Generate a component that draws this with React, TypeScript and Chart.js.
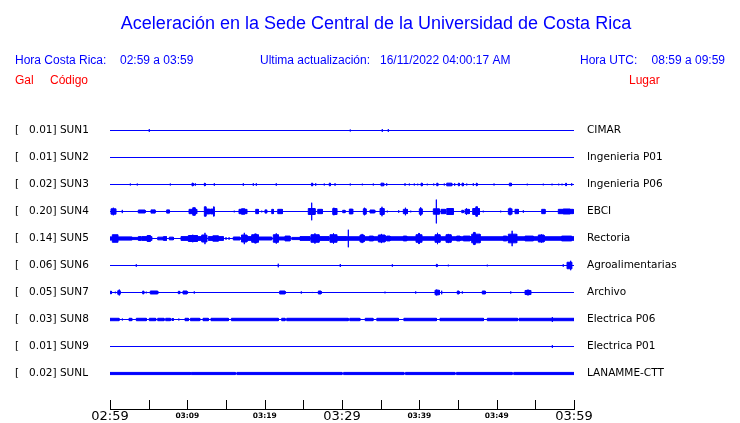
import React, { useEffect, useRef } from 'react';
import { Chart, registerables } from 'chart.js';
Chart.register(...registerables);

type Ev = [number, number, number]; // [start minute, end minute, relative amplitude]

const TITLE = 'Aceleración en la Sede Central de la Universidad de Costa Rica';
const HORA_CR = '02:59 a 03:59';
const UPDATED = '16/11/2022 04:00:17 AM';
const HORA_UTC = '08:59 a 09:59';

const GAL = ['0.01', '0.01', '0.02', '0.20', '0.14', '0.06', '0.05', '0.03', '0.01', '0.02'];
const CODES = ['SUN1', 'SUN2', 'SUN3', 'SUN4', 'SUN5', 'SUN6', 'SUN7', 'SUN8', 'SUN9', 'SUNL'];
const PLACES = ['CIMAR', 'Ingenieria P01', 'Ingenieria P06', 'EBCI', 'Rectoria', 'Agroalimentarias', 'Archivo', 'Electrica P06', 'Electrica P01', 'LANAMME-CTT'];
const TICK_LABELS = ['02:59', '03:09', '03:19', '03:29', '03:39', '03:49', '03:59'];
const MAJOR_LABELS = ['02:59', '03:29', '03:59'];
const DURATION_MIN = 60;

const SUN1: Ev[] = [[5.08, 5.08, 0.1], [31.07, 31.07, 0.07], [35.21, 35.21, 0.1], [35.99, 35.99, 0.1]];
const SUN2: Ev[] = [];
const SUN3: Ev[] = [
  [2.63, 2.63, 0.07], [3.53, 3.53, 0.07], [7.8, 7.8, 0.07], [10.6, 10.75, 0.1], [11.03, 11.03, 0.09],
  [12.2, 12.3, 0.1], [13.49, 13.49, 0.09], [17.24, 17.24, 0.09], [18.53, 18.53, 0.09], [18.92, 18.92, 0.09],
  [21.5, 21.5, 0.09], [26.05, 26.2, 0.1], [26.6, 26.6, 0.09], [27.71, 27.71, 0.07], [28.35, 28.5, 0.1],
  [29.1, 29.1, 0.09], [31.07, 31.07, 0.07], [32.63, 32.63, 0.06], [34.05, 34.05, 0.07], [35.04, 35.39, 0.1],
  [35.78, 35.78, 0.09], [38.15, 38.15, 0.09], [38.71, 38.71, 0.07], [39.35, 39.35, 0.07], [39.79, 39.79, 0.06],
  [40.22, 40.38, 0.1], [41.03, 41.03, 0.06], [41.86, 41.86, 0.07], [42.25, 42.38, 0.1], [43.23, 43.23, 0.07],
  [43.54, 44.19, 0.1], [44.57, 44.57, 0.09], [45.04, 45.17, 0.1], [45.52, 45.69, 0.1], [46.13, 46.13, 0.07],
  [46.98, 46.98, 0.09], [47.37, 47.46, 0.1], [49.66, 49.66, 0.07], [51.64, 51.9, 0.1], [53.96, 53.96, 0.06],
  [56.03, 56.03, 0.06], [57.16, 57.16, 0.06], [58.02, 58.02, 0.06], [58.45, 58.45, 0.06], [58.93, 59.0, 0.1],
  [59.7, 59.7, 0.09],
];
const SUN4: Ev[] = [
  [0.13, 0.74, 0.2], [0.43, 0.43, 0.28], [1.59, 1.59, 0.12], [3.66, 4.53, 0.11], [5.3, 5.82, 0.12],
  [7.33, 7.67, 0.12], [10.22, 11.21, 0.16], [10.7, 11.0, 0.28], [12.2, 12.4, 0.35], [12.4, 12.9, 0.18],
  [13.0, 13.45, 0.18], [13.4, 13.45, 0.35], [16.07, 16.07, 0.06], [16.68, 17.68, 0.16], [17.0, 17.4, 0.2],
  [18.84, 19.18, 0.16], [19.62, 19.62, 0.06], [20.04, 20.26, 0.12], [20.91, 21.12, 0.16], [21.69, 22.28, 0.16],
  [25.64, 26.51, 0.22], [26.08, 26.08, 0.65], [26.86, 27.45, 0.16], [28.8, 29.32, 0.22], [28.95, 28.95, 0.28],
  [30.09, 30.39, 0.09], [30.95, 31.38, 0.18], [32.76, 33.1, 0.2], [32.9, 32.9, 0.28], [33.62, 34.23, 0.11],
  [34.92, 35.43, 0.22], [35.17, 35.17, 0.35], [35.86, 35.86, 0.06], [37.33, 37.33, 0.09], [37.93, 38.45, 0.16],
  [38.2, 38.2, 0.28], [38.89, 38.89, 0.06], [40.0, 40.35, 0.2], [40.17, 40.17, 0.31], [41.81, 42.58, 0.2],
  [42.2, 42.2, 0.88], [42.8, 43.36, 0.16], [43.54, 44.39, 0.22], [45.48, 45.69, 0.09], [45.91, 46.46, 0.16],
  [46.1, 46.1, 0.24], [46.9, 47.76, 0.22], [47.3, 47.5, 0.35], [48.27, 48.27, 0.06], [50.52, 50.52, 0.06],
  [51.51, 51.95, 0.2], [51.73, 51.73, 0.28], [52.37, 52.8, 0.16], [53.45, 53.45, 0.09], [55.82, 56.25, 0.16],
  [57.97, 59.91, 0.16], [58.6, 59.5, 0.18],
];
const SUN5: Ev[] = [
  [0, 2.81, 0.12], [0.3, 1.0, 0.28], [2.81, 3.88, 0.08], [3.66, 4.0, 0.14], [4.1, 5.39, 0.14], [4.8, 5.2, 0.22],
  [6.17, 6.89, 0.1], [6.9, 7.3, 0.14], [7.67, 8.19, 0.1], [9.18, 11.86, 0.14], [10.13, 11.3, 0.22],
  [10.7, 10.7, 0.28], [11.86, 12.5, 0.26], [12.28, 12.28, 0.42], [12.71, 14.65, 0.14], [13.3, 14.0, 0.2],
  [15.0, 15.0, 0.09], [15.4, 15.4, 0.09], [15.94, 16.81, 0.11], [17.0, 17.7, 0.26], [17.37, 17.37, 0.42],
  [17.7, 18.32, 0.14], [18.32, 19.18, 0.28], [18.7, 18.9, 0.34], [19.18, 20.91, 0.11], [21.12, 21.76, 0.28],
  [21.5, 21.5, 0.38], [21.76, 22.63, 0.11], [22.63, 23.28, 0.18], [23.5, 24.57, 0.08], [24.57, 25.86, 0.14],
  [25.99, 27.03, 0.28], [26.5, 26.5, 0.38], [27.03, 28.32, 0.14], [28.45, 29.32, 0.28], [28.9, 28.9, 0.38],
  [29.32, 30.5, 0.14], [30.5, 60, 0.13], [30.82, 30.82, 0.65], [32.33, 32.85, 0.26], [32.6, 32.6, 0.34],
  [33.53, 34.05, 0.18], [34.7, 35.56, 0.26], [35.1, 35.1, 0.34], [35.78, 36.21, 0.18], [37.93, 38.37, 0.18],
  [39.57, 40.31, 0.28], [39.9, 40.0, 0.38], [42.03, 42.67, 0.28], [42.35, 42.35, 0.42], [43.45, 44.1, 0.28],
  [43.75, 43.75, 0.34], [44.83, 45.26, 0.18], [45.69, 46.55, 0.18], [46.77, 47.85, 0.32], [47.0, 47.2, 0.45],
  [50.86, 51.3, 0.18], [51.51, 52.59, 0.32], [52.0, 52.0, 0.57], [53.67, 54.74, 0.18], [55.39, 56.12, 0.26],
  [55.8, 55.8, 0.3], [58.41, 59.7, 0.18],
];
const SUN6: Ev[] = [
  [3.4, 3.4, 0.09], [21.76, 21.76, 0.13], [29.78, 29.78, 0.11], [36.51, 36.51, 0.09], [42.2, 42.3, 0.09],
  [43.75, 43.75, 0.06], [48.79, 48.79, 0.06], [58.61, 58.61, 0.09], [59.1, 59.7, 0.24], [59.57, 59.57, 0.35],
];
const SUN7: Ev[] = [
  [0, 0.2, 0.09], [0.69, 0.69, 0.06], [1.0, 1.3, 0.13], [1.2, 1.2, 0.22], [4.23, 4.36, 0.11], [4.69, 4.69, 0.06],
  [5.21, 6.17, 0.11], [8.83, 9.01, 0.09], [9.44, 9.96, 0.11], [10.13, 10.13, 0.04], [10.9, 10.9, 0.08],
  [21.94, 22.63, 0.11], [24.74, 24.74, 0.08], [26.16, 26.16, 0.04], [26.94, 27.29, 0.11], [35.56, 35.56, 0.06],
  [39.53, 39.53, 0.08], [42.03, 42.58, 0.17], [42.25, 42.25, 0.22], [42.89, 42.89, 0.13], [44.91, 45.13, 0.11],
  [45.56, 45.56, 0.08], [48.14, 48.53, 0.11], [51.82, 51.82, 0.08], [53.67, 54.4, 0.15], [53.9, 54.2, 0.18],
];
const SUN8: Ev[] = [
  [0, 1.16, 0.09], [1.6, 1.6, 0.07], [2.46, 2.81, 0.09], [3.4, 4.69, 0.09], [5.08, 5.9, 0.09], [6.17, 6.98, 0.09],
  [7.2, 7.8, 0.09], [8.0, 8.2, 0.07], [8.9, 8.9, 0.07], [9.7, 10.13, 0.09], [10.4, 11.6, 0.09], [12.03, 12.71, 0.09],
  [13.06, 15.3, 0.09], [15.7, 21.76, 0.09], [22.2, 22.63, 0.09], [22.85, 30.8, 0.09], [31.0, 32.3, 0.09],
  [33.0, 34.0, 0.09], [34.5, 37.3, 0.09], [38.0, 42.2, 0.09], [42.67, 48.3, 0.09], [48.79, 52.7, 0.09],
  [52.9, 60, 0.09], [57.2, 57.2, 0.18],
];
const SUN9: Ev[] = [[57.2, 57.2, 0.1]];
const SUNL: Ev[] = [
  [0, 10.4, 0.08], [10.5, 16.2, 0.08], [16.4, 30.0, 0.08], [30.2, 38.0, 0.08], [38.2, 44.6, 0.08],
  [44.8, 52.0, 0.08], [52.2, 60, 0.08],
];
const TRACES: Ev[][] = [SUN1, SUN2, SUN3, SUN4, SUN5, SUN6, SUN7, SUN8, SUN9, SUNL];

// layout (pixels)
const W = 740;
const H = 423;
const ROW_PX = 27;
const PLOT_TOP = 116;
const PLOT_BOTTOM = 409;
const FIRST_ROW_Y = 130.5;
const LAST_ROW_Y = FIRST_ROW_Y + ROW_PX * 9;
const Y_MIN = 1 - (PLOT_BOTTOM - LAST_ROW_Y) / ROW_PX;
const Y_MAX = Y_MIN + (PLOT_BOTTOM - PLOT_TOP) / ROW_PX;
const HALF_ROW = 0.5;

function buildTrace(base: number, events: Ev[]) {
  const pts: { x: number; y: number }[] = [{ x: 0, y: base }];
  const sorted = [...events].sort((a, b) => a[0] - b[0]);
  for (const [t0, t1, a] of sorted) {
    const h = a * HALF_ROW;
    pts.push(
      { x: t0, y: base },
      { x: t0, y: base + h },
      { x: t1, y: base + h },
      { x: t1, y: base - h },
      { x: t0, y: base - h },
      { x: t0, y: base },
    );
  }
  pts.push({ x: DURATION_MIN, y: base });
  return pts;
}

const SANS = '"Liberation Sans", Arial, Helvetica, sans-serif';
const DEJAVU = '"DejaVu Sans", sans-serif';

const overlayPlugin = {
  id: 'overlay',
  afterDraw(chart: any) {
    const ctx = chart.ctx as CanvasRenderingContext2D;
    ctx.save();
    ctx.textBaseline = 'alphabetic';
    ctx.fillStyle = '#0000ff';
    ctx.font = `18px ${SANS}`;
    ctx.textAlign = 'center';
    ctx.fillText(TITLE, 376, 29);
    ctx.font = `12px ${SANS}`;
    ctx.textAlign = 'left';
    ctx.fillText('Hora Costa Rica:', 15, 64);
    ctx.fillText(HORA_CR, 120, 64);
    ctx.fillText('Ultima actualización:', 260, 64);
    ctx.fillText(UPDATED, 380, 64);
    ctx.fillText('Hora UTC:', 580, 64);
    ctx.textAlign = 'right';
    ctx.fillText(HORA_UTC, 725, 64);
    ctx.textAlign = 'left';
    ctx.fillStyle = '#ff0000';
    ctx.fillText('Gal', 15, 84);
    ctx.fillText('Código', 50, 84);
    ctx.fillText('Lugar', 629, 84);

    // upward tick marks on time axis
    const xs = chart.scales.x;
    const bottom = chart.chartArea.bottom;
    ctx.strokeStyle = '#000000';
    ctx.lineWidth = 1;
    ctx.beginPath();
    for (const t of xs.ticks) {
      const px = Math.round(xs.getPixelForValue(t.value)) + 0.5;
      ctx.moveTo(px, bottom - 9);
      ctx.lineTo(px, bottom + 0.5);
    }
    ctx.stroke();
    ctx.restore();
  },
};

export default function App() {
  const ref = useRef<HTMLCanvasElement>(null);
  useEffect(() => {
    if (!ref.current) return;
    const datasets = TRACES.map((ev, i) => ({
      label: CODES[i],
      data: buildTrace(10 - i, ev),
      borderColor: '#0000ff',
      backgroundColor: '#0000ff',
      borderWidth: 1,
      pointRadius: 0,
      fill: 'shape',
      tension: 0,
      yAxisID: 'y',
    }));
    const rowValues = CODES.map((_, i) => 10 - i);
    const chart = new Chart(ref.current, {
      type: 'line',
      data: { datasets },
      options: {
        animation: false,
        responsive: false,
        events: [],
        layout: { padding: { left: 15, top: PLOT_TOP, right: 0, bottom: 0 } },
        plugins: { legend: { display: false }, tooltip: { enabled: false }, title: { display: false } },
        scales: {
          x: {
            type: 'linear',
            min: 0,
            max: DURATION_MIN,
            grid: { display: true, drawOnChartArea: false, drawTicks: false },
            border: { display: true, color: '#000000', width: 1 },
            afterFit: (s: any) => { s.height = H - PLOT_BOTTOM; },
            ticks: {
              stepSize: 5,
              autoSkip: false,
              maxRotation: 0,
              padding: 0,
              color: '#000000',
              callback: (v: any) => (v % 10 === 0 ? TICK_LABELS[v / 10] : ''),
              font: (c: any) => {
                const lbl = TICK_LABELS[(c.tick?.value ?? 1) / 10];
                return lbl && MAJOR_LABELS.includes(lbl)
                  ? { family: DEJAVU, size: 13, lineHeight: 1.2 }
                  : { family: DEJAVU, size: 7.5, weight: 'bold', lineHeight: 1.85 };
              },
            },
          },
          y: {
            type: 'linear',
            position: 'left',
            min: Y_MIN,
            max: Y_MAX,
            grid: { display: false, drawTicks: false },
            border: { display: false },
            afterFit: (s: any) => { s.width = 95; },
            afterBuildTicks: (s: any) => { s.ticks = rowValues.map((v) => ({ value: v })); },
            ticks: {
              autoSkip: false,
              crossAlign: 'far',
              padding: 0,
              color: '#000000',
              font: { family: DEJAVU, size: 10.5 },
              callback: (v: any) => {
                const i = 10 - Math.round(v);
                return `[   ${GAL[i]}] ${CODES[i]}`;
              },
            },
          },
          y2: {
            type: 'linear',
            position: 'right',
            min: Y_MIN,
            max: Y_MAX,
            grid: { display: false, drawTicks: true, tickLength: 10 },
            border: { display: false },
            afterFit: (s: any) => { s.width = W - 574; },
            afterBuildTicks: (s: any) => { s.ticks = rowValues.map((v) => ({ value: v })); },
            ticks: {
              autoSkip: false,
              padding: 3,
              color: '#000000',
              font: { family: DEJAVU, size: 10.5 },
              callback: (v: any) => PLACES[10 - Math.round(v)],
            },
          },
        },
      },
      plugins: [overlayPlugin],
    } as any);
    return () => chart.destroy();
  }, []);
  return (
    <div style={{ position: 'absolute', left: 0, top: 0, width: W, height: H, background: '#ffffff' }}>
      <canvas ref={ref} width={W} height={H} style={{ width: W, height: H, display: 'block' }} />
    </div>
  );
}
